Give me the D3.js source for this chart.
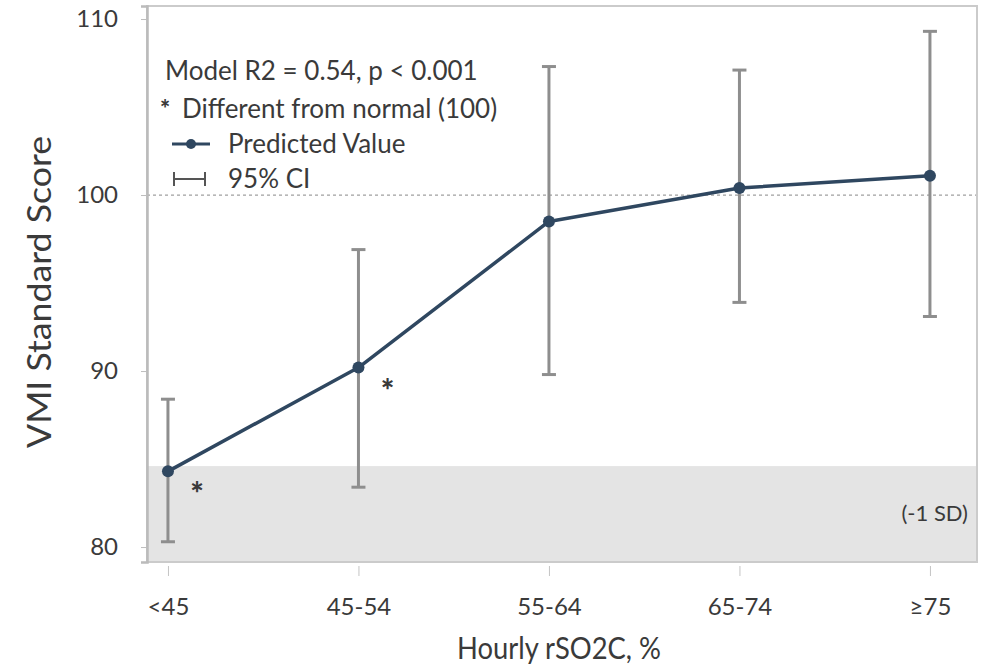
<!DOCTYPE html>
<html>
<head>
<meta charset="utf-8">
<script src="https://cdn.jsdelivr.net/npm/d3@7"></script>
<style>
  body { margin: 0; background: #fff; }
  text { font-family: Lato, "Open Sans", sans-serif; fill: #3a3a3a; }
</style>
</head>
<body>
<div class="chart"></div>
<script>
// values
let categories = ["<45", "45-54", "55-64", "65-74", "\u226575"];
let predicted = [84.3, 90.2, 98.5, 100.4, 101.1];
let ciLower = [80.3, 83.4, 89.8, 93.9, 93.1];
let ciUpper = [88.4, 96.9, 107.3, 107.1, 109.3];
let different = [true, true, false, false, false];
let yTicks = [80, 90, 100, 110];
let normalScore = 100;
let sdBandTop = 84.6;

let margin = {top: 6, right: 9, bottom: 107, left: 147};
let width = 986 - margin.left - margin.right,
    height = 669 - margin.top - margin.bottom;

let linecolor = "#2f4760";
let barcolor = "#8e8e8e";

let svg = d3.select(".chart").append("svg")
    .attr("width", 986)
    .attr("height", 669)
    .append("g")
    .attr("transform", "translate(" + margin.left + "," + margin.top + ")");

let data = categories.map(function(c, i) {
    return {cat: c, i: i, val: predicted[i], lo: ciLower[i], hi: ciUpper[i], diff: different[i]};
});

const xScale = d3.scaleLinear()
    .range([0, width])
    .domain([-0.11, 4.247]);

const yScale = d3.scaleLinear()
    .range([height, 0])
    .domain([79.15, 110.74]);

// -1 SD band
svg.append("rect")
    .attr("x", 0)
    .attr("y", yScale(sdBandTop))
    .attr("width", width)
    .attr("height", height - yScale(sdBandTop))
    .attr("fill", "#e4e4e4");

svg.append("text")
    .attr("x", width - 9)
    .attr("y", yScale(sdBandTop) + 55)
    .attr("text-anchor", "end")
    .style("font-size", "22px")
    .text("(-1 SD)");

// normal reference line
svg.append("line")
    .attr("x1", 0).attr("x2", width)
    .attr("y1", yScale(normalScore)).attr("y2", yScale(normalScore))
    .attr("stroke", "#a0a0a0")
    .attr("stroke-width", 1.3)
    .attr("stroke-dasharray", "3,3");

// frame
svg.append("rect")
    .attr("width", width).attr("height", height)
    .attr("fill", "none")
    .attr("stroke", "#cbcbcb")
    .attr("stroke-width", 2);

// axes
let yAxis = svg.append("g")
    .call(d3.axisLeft(yScale).tickValues(yTicks).tickSize(6).tickPadding(23));
yAxis.select(".domain").attr("stroke", "#bbbbbb").attr("stroke-width", 2.5);
yAxis.selectAll(".tick line").attr("stroke", "#bdbdbd");
yAxis.selectAll("text").style("font-size", "24px").attr("fill", "#3a3a3a");

let xAxis = svg.append("g")
    .attr("transform", `translate(0, ${height})`)
    .call(d3.axisBottom(xScale).tickValues(d3.range(categories.length))
        .tickFormat(function(d) { return categories[d]; })
        .tickSize(10).tickPadding(26));
xAxis.select(".domain").remove();
xAxis.selectAll(".tick line").attr("stroke", "#c4c4c4").attr("transform", "translate(0,4)");
xAxis.selectAll("text").style("font-size", "24px").attr("fill", "#3a3a3a");

// axis titles
svg.append("text")
    .attr("transform", "rotate(-90)")
    .attr("x", -286)
    .attr("y", -96)
    .attr("text-anchor", "middle")
    .attr("textLength", 312)
    .attr("lengthAdjust", "spacingAndGlyphs")
    .style("font-size", "33px")
    .text("VMI Standard Score");

svg.append("text")
    .attr("x", 412)
    .attr("y", height + 97)
    .attr("text-anchor", "middle")
    .attr("textLength", 204)
    .attr("lengthAdjust", "spacingAndGlyphs")
    .style("font-size", "30px")
    .text("Hourly rSO2C, %");

// error bars
let bars = svg.selectAll(".ci").data(data).enter().append("g").attr("class", "ci");
bars.append("line")
    .attr("x1", d => xScale(d.i)).attr("x2", d => xScale(d.i))
    .attr("y1", d => yScale(d.lo)).attr("y2", d => yScale(d.hi))
    .attr("stroke", barcolor).attr("stroke-width", 3);
bars.append("line")
    .attr("x1", d => xScale(d.i) - 7).attr("x2", d => xScale(d.i) + 7)
    .attr("y1", d => yScale(d.hi)).attr("y2", d => yScale(d.hi))
    .attr("stroke", barcolor).attr("stroke-width", 3);
bars.append("line")
    .attr("x1", d => xScale(d.i) - 7).attr("x2", d => xScale(d.i) + 7)
    .attr("y1", d => yScale(d.lo)).attr("y2", d => yScale(d.lo))
    .attr("stroke", barcolor).attr("stroke-width", 3);

// predicted line
svg.append("path")
    .datum(data)
    .attr("fill", "none")
    .attr("stroke", linecolor)
    .attr("stroke-width", 3.5)
    .attr("stroke-linejoin", "round")
    .attr("d", d3.line()
        .x(function(d) { return xScale(d.i) })
        .y(function(d) { return yScale(d.val) }));

svg.selectAll(".pt").data(data).enter().append("circle")
    .attr("class", "pt")
    .attr("cx", d => xScale(d.i))
    .attr("cy", d => yScale(d.val))
    .attr("r", 6)
    .attr("fill", linecolor);

// significance stars
svg.selectAll(".star").data(data.filter(d => d.diff)).enter().append("text")
    .attr("class", "star")
    .attr("x", d => xScale(d.i) + 29)
    .attr("y", d => yScale(d.val) + 34)
    .attr("text-anchor", "middle")
    .style("font-size", "32px")
    .style("font-weight", "900")
    .attr("fill", "#222")
    .text("*");

// legend
let lg = svg.append("g").attr("transform", "translate(0, -6)");
lg.append("text").attr("x", 18).attr("y", 80).style("font-size", "26px").text("Model R2 = 0.54, p < 0.001");
lg.append("text").attr("x", 18).attr("y", 118).attr("text-anchor", "middle")
    .style("font-size", "24px").style("font-weight", "900").attr("fill", "#222").text("*");
lg.append("text").attr("x", 35).attr("y", 118).style("font-size", "26px").text("Different from normal (100)");
lg.append("line").attr("x1", 25).attr("x2", 63).attr("y1", 144).attr("y2", 144)
    .attr("stroke", linecolor).attr("stroke-width", 3);
lg.append("circle").attr("cx", 44).attr("cy", 144).attr("r", 5).attr("fill", linecolor);
lg.append("text").attr("x", 81).attr("y", 153).style("font-size", "26px").text("Predicted Value");
lg.append("line").attr("x1", 27).attr("x2", 58).attr("y1", 179).attr("y2", 179)
    .attr("stroke", "#555").attr("stroke-width", 2);
lg.append("line").attr("x1", 27).attr("x2", 27).attr("y1", 172).attr("y2", 186)
    .attr("stroke", "#555").attr("stroke-width", 2);
lg.append("line").attr("x1", 58).attr("x2", 58).attr("y1", 172).attr("y2", 186)
    .attr("stroke", "#555").attr("stroke-width", 2);
lg.append("text").attr("x", 81).attr("y", 188).style("font-size", "26px").text("95% CI");
</script>
</body>
</html>
